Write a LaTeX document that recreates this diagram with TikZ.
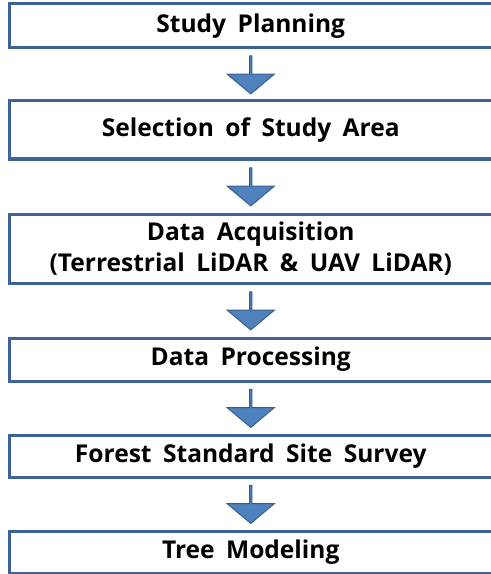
\documentclass[tikz,border=0pt]{standalone}
\usepackage{fontspec}
\setmainfont{Open Sans}[WordSpace=1.8]
\usetikzlibrary{shapes.arrows}

\definecolor{boxline}{HTML}{3E6497}
\definecolor{arrowfill}{HTML}{4F81BD}
\definecolor{arrowline}{HTML}{3A5F8C}

\begin{document}
\begin{tikzpicture}[x=0.75pt, y=-0.75pt,
    stage/.style={draw=boxline, line width=2.25pt, fill=white, minimum width=361.875pt,
      inner sep=0pt, align=center, font=\fontsize{18.4}{23.25}\selectfont\bfseries},
    downarrow/.style={single arrow, draw=arrowline, fill=arrowfill, line width=0.75pt,
      rotate=-90, inner sep=0pt, minimum height=28.5pt, minimum width=35.25pt,
      single arrow head extend=8.25pt, single arrow tip angle=100}]
    \useasboundingbox (0,0) rectangle (491,574);
    \clip (0,0) rectangle (491,574);

    \node[stage, minimum height=33pt]    (plan)    at (250.75, 26)    {Study Planning};
    \node[stage, minimum height=43.5pt]  (area)    at (250.75, 130)   {Selection of Study Area};
    \node[stage, minimum height=51.75pt] (acquire) at (250.75, 248.5) {Data Acquisition\\(Terrestrial LiDAR \& UAV LiDAR)};
    \node[stage, minimum height=32.25pt] (process) at (250.75, 359.5) {Data Processing};
    \node[stage, minimum height=31.5pt]  (survey)  at (250.75, 456)   {Forest Standard Site Survey};
    \node[stage, minimum height=31.5pt]  (model)   at (250.75, 552)   {Tree Modeling};

    % block arrows between the stages
    \path (plan.south)    -- node[downarrow] {} (area.north);
    \path (area.south)    -- node[downarrow] {} (acquire.north);
    \path (acquire.south) -- node[downarrow] {} (process.north);
    \path (process.south) -- node[downarrow] {} (survey.north);
    \path (survey.south)  -- node[downarrow] {} (model.north);
\end{tikzpicture}
\end{document}
